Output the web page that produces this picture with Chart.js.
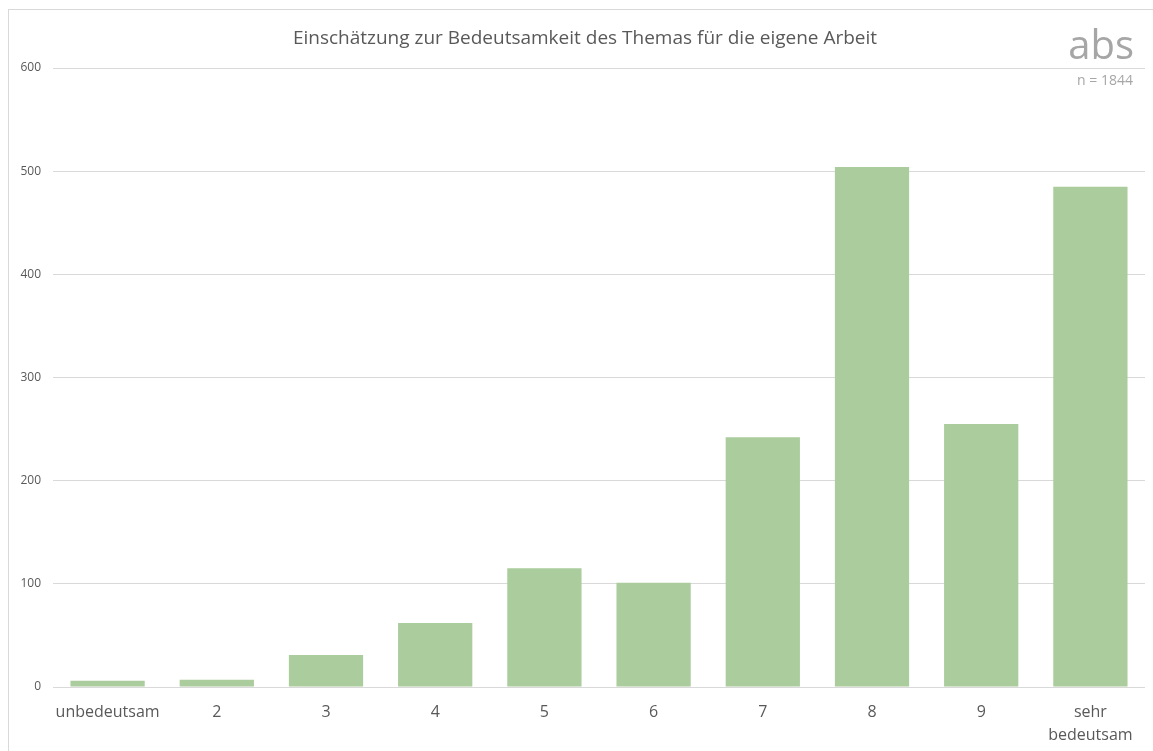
<!DOCTYPE html>
<html lang="de">
<head>
<meta charset="utf-8">
<title>Einschätzung zur Bedeutsamkeit des Themas</title>
<script src="https://cdn.jsdelivr.net/npm/chart.js@4/dist/chart.umd.min.js"></script>
<style>
  html, body { margin: 0; padding: 0; background: #fff; }
  body { width: 1153px; height: 751px; overflow: hidden; font-family: 'Open Sans', 'Noto Sans', sans-serif; }
  .wrap { position: relative; width: 1153px; height: 751px; }
  .frame { position: absolute; left: 8px; top: 9px; width: 1160px; height: 760px; border: 1px solid #d9d9d9; box-sizing: border-box; }
  canvas { position: absolute; left: 0; top: 0; }
  .title { position: absolute; left: 0; width: 1170px; top: 24px; text-align: center; font-size: 19px; color: #595959; }
  .abs { position: absolute; right: 19px; top: 24px; font-size: 40px; line-height: 40px; color: #a6a6a6; }
  .n { position: absolute; right: 20px; top: 70px; font-size: 14px; color: #a6a6a6; }
</style>
</head>
<body>
<div class="wrap">
  <div class="frame"></div>
  <canvas id="chart" width="1153" height="751"></canvas>
  <div class="title">Einschätzung zur Bedeutsamkeit des Themas für die eigene Arbeit</div>
  <div class="abs">abs</div>
  <div class="n">n = 1844</div>
</div>
<script>
// ─── Daten ──────────────────────────────────────────────────────────
const categories = ['unbedeutsam', '2', '3', '4', '5', '6', '7', '8', '9', ['sehr', 'bedeutsam']];
const counts = [6, 7, 31, 62, 115, 101, 242, 504, 255, 485];
const yTicks = [0, 100, 200, 300, 400, 500, 600];

const textGrey = '#595959';
const barGreen = '#abcc9c';

new Chart(document.getElementById('chart').getContext('2d'), {
  type: 'bar',
  data: {
    labels: categories,
    datasets: [{
      data: counts, backgroundColor: barGreen, borderWidth: 0,
      barPercentage: 0.68, categoryPercentage: 1,
    }],
  },
  options: {
    responsive: false, animation: false,
    layout: { padding: { top: 68, right: 8, left: 0, bottom: 0 } },
    plugins: { legend: { display: false }, tooltip: { enabled: false } },
    scales: {
      x: {
        grid: { display: false, drawTicks: false },
        border: { display: false },
        ticks: { color: textGrey, font: { family: "'Open Sans'", size: 16, lineHeight: 1.45 }, padding: 14, maxRotation: 0, autoSkip: false },
        afterFit: s => { s.height = 64; },
      },
      y: {
        min: yTicks[0], max: yTicks[yTicks.length - 1],
        afterBuildTicks: s => { s.ticks = yTicks.map(v => ({ value: v })); },
        grid: { color: '#d9d9d9', drawTicks: false },
        border: { display: false },
        ticks: { color: textGrey, font: { family: "'Open Sans'", size: 12 }, padding: 12 },
        afterFit: s => { s.width = 53; },
      },
    },
  },
});
</script>
</body>
</html>
